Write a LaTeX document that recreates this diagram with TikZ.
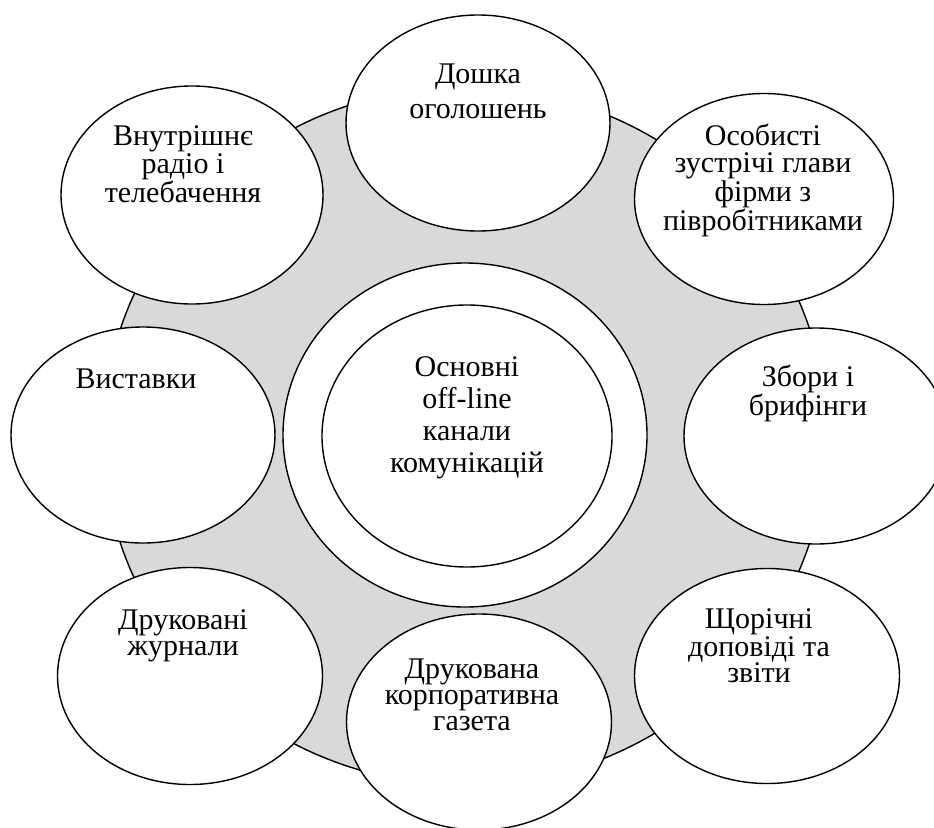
\documentclass[tikz,border=0pt]{standalone}
\usepackage{fontspec}
\setmainfont{Liberation Serif}
\usetikzlibrary{shapes.geometric}
\definecolor{ringgray}{RGB}{217,217,217}
\begin{document}
\begin{tikzpicture}[x=1pt,y=-1pt,
  oval/.style={ellipse, draw=black, line width=1.4pt, fill=white, inner sep=0pt},
  sat/.style={oval, minimum width=264pt, minimum height=216pt},
  lbl/.style={align=center, font=\fontsize{30}{26}\selectfont, anchor=base, inner sep=0pt},
  clbl/.style={align=center, font=\fontsize{30}{32}\selectfont, anchor=base, inner sep=0pt},
]
\useasboundingbox (0,0) rectangle (934,827);
\clip (0,0) rectangle (934,827);
\node[oval, fill=ringgray, minimum width=724pt, minimum height=698pt] (ring) at (465,436) {};
\node[oval, minimum width=364pt, minimum height=344pt] (outer) at (465,435) {};
\node[oval, minimum width=290pt, minimum height=262pt] (inner) at (467,436) {};

\node[sat] (top) at (478,123) {};
\node[sat, minimum width=262pt, minimum height=218pt] (tl) at (192,195) {};
\node[sat, minimum width=259pt, minimum height=211pt] (tr) at (764,199) {};
\node[sat] (l) at (143,435) {};
\node[sat] (r) at (816,436) {};
\node[sat, minimum width=265pt, minimum height=217pt] (bl) at (190,676) {};
\node[sat, minimum width=265pt] (b) at (479,722) {};
\node[sat, minimum width=265pt, minimum height=215pt] (br) at (767,676) {};

\node[clbl] (tcenter) at (467,472) {Основні\\off-line\\канали\\комунікацій};
\node[lbl, font=\fontsize{30}{35}\selectfont] (ttop) at (478,118) {Дошка\\оголошень};
\node[lbl] (ttl) at (183,202) {Внутрішнє\\радіо і\\телебачення};
\node[lbl, font=\fontsize{30}{27}\selectfont] (ttr) at (763,230) {Особисті\\зустрічі глави\\фірми з\\півробітниками};
\node[lbl] (tl2) at (136,388) {Виставки};
\node[lbl, font=\fontsize{30}{27}\selectfont] (tr2) at (808,415) {Збори і\\брифінги};
\node[lbl] (tbl) at (183,655) {Друковані\\журнали};
\node[lbl] (tb) at (472,730) {Друкована\\корпоративна\\газета};
\node[lbl] (tbr) at (759,682) {Щорічні\\доповіді та\\звіти};
\end{tikzpicture}
\end{document}
